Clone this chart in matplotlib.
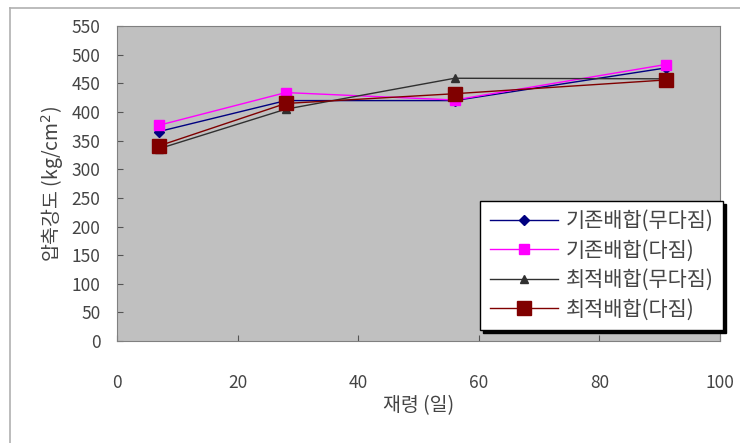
import matplotlib.pyplot as plt
from matplotlib.lines import Line2D

plt.rcParams['font.family'] = ['Noto Sans CJK KR', 'DejaVu Sans']

days = [7, 28, 56, 91]
base_plain = [366, 420, 420, 477]      # 기존배합(무다짐)
base_comp = [377, 434, 421, 483]       # 기존배합(다짐)
opt_plain = [336, 405, 459, 458]       # 최적배합(무다짐)
opt_comp = [341, 415, 432, 456]        # 최적배합(다짐)

labels = ['기존배합(무다짐)', '기존배합(다짐)', '최적배합(무다짐)', '최적배합(다짐)']

fig = plt.figure(figsize=(7.4, 4.43), dpi=100)
ax = fig.add_axes([0.158, 0.230, 0.815, 0.711])
ax.set_facecolor('#c0c0c0')

ax.plot(days, base_plain, color='#000080', marker='D', markersize=5, lw=1, label=labels[0])
ax.plot(days, base_comp, color='#ff00ff', marker='s', markersize=7, lw=1, label=labels[1])
ax.plot(days, opt_plain, color='#303030', marker='^', markersize=6, lw=1, label=labels[2])
ax.plot(days, opt_comp, color='#800000', marker='s', markersize=10, lw=1, label=labels[3])

ax.set_xlim(0, 100)
ax.set_ylim(0, 550)
ax.set_xticks(range(0, 101, 20))
ax.set_yticks(range(0, 551, 50))
ax.tick_params(direction='in', length=4, colors='#555555', labelcolor='#444444', labelsize=12.5)
ax.tick_params(axis='x', pad=24)
ax.tick_params(axis='y', pad=12)
for s in ax.spines.values():
    s.set_color('#808080')

ax.set_xlabel('재령 (일)', fontsize=14, color='#444444', labelpad=2)
ax.set_ylabel('압축강도 (kg/cm$^2$)', fontsize=14, color='#444444', labelpad=4)

leg = ax.legend(loc='lower right', bbox_to_anchor=(1.005, 0.035), fontsize=15,
                frameon=True, fancybox=False, framealpha=1, edgecolor='black',
                shadow={'color': 'black', 'alpha': 1}, handlelength=3.3,
                borderpad=0.45, labelspacing=0.36, handletextpad=0.35, borderaxespad=0)
for t in leg.get_texts():
    t.set_color('#444444')

# outer chart frame
fig.add_artist(Line2D([10 / 740, 10 / 740], [0, 1 - 8 / 443], color='#b0b0b0', lw=1.2))
fig.add_artist(Line2D([10 / 740, 1], [1 - 8 / 443, 1 - 8 / 443], color='#b0b0b0', lw=1.2))

fig.savefig('out.png', dpi=100)
